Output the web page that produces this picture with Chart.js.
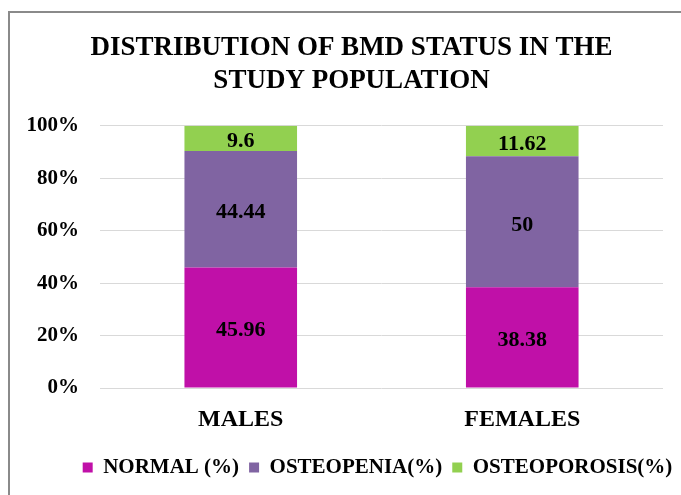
<!DOCTYPE html>
<html>
<head>
<meta charset="utf-8">
<script src="https://cdn.jsdelivr.net/npm/chart.js@4/dist/chart.umd.min.js"></script>
<style>
  body { margin: 0; background: #fff; }
  #frame { position: absolute; left: 8px; top: 11px; width: 800px; height: 600px;
           border-left: 2px solid #8a8a8a; border-top: 2px solid #8a8a8a; }
  #chart { position: absolute; left: 0; top: 0; }
</style>
</head>
<body>
<div id="frame"></div>
<canvas id="chart" width="681" height="495"></canvas>
<script>
var categories = ["MALES", "FEMALES"];
var normalPct = [45.96, 38.38];
var osteopeniaPct = [44.44, 50];
var osteoporosisPct = [9.6, 11.62];
var seriesNames = ["NORMAL (%)", "OSTEOPENIA(%)", "OSTEOPOROSIS(%)"];
var yTicks = [0, 20, 40, 60, 80, 100];

var serif = "'Liberation Serif', 'Times New Roman', serif";

// writes each value in the middle of its bar segment
var barLabels = {
    id: "barLabels",
    afterDatasetsDraw: function (chart) {
        var ctx = chart.ctx;
        ctx.save();
        ctx.font = "bold 22px " + serif;
        ctx.fillStyle = "#000";
        ctx.textAlign = "center";
        ctx.textBaseline = "middle";
        chart.data.datasets.forEach(function (ds, i) {
            chart.getDatasetMeta(i).data.forEach(function (bar, j) {
                var p = bar.getCenterPoint();
                ctx.fillText(String(ds.data[j]), p.x, p.y + 3);
            });
        });
        ctx.restore();
    }
};

// title and legend sit a bit right of the plot centre in the original
var boxShift = {
    id: "boxShift",
    afterLayout: function (chart) {
        chart.titleBlock.left += 15;
        chart.titleBlock.right += 15;
        chart.legend.left += 41;
        chart.legend.right += 41;
    }
};

new Chart(document.getElementById("chart"), {
    type: "bar",
    data: {
        labels: categories,
        datasets: [
            { label: seriesNames[0], data: normalPct, backgroundColor: "#C010A8" },
            { label: seriesNames[1], data: osteopeniaPct, backgroundColor: "#8064A2" },
            { label: seriesNames[2], data: osteoporosisPct, backgroundColor: "#92D050" }
        ]
    },
    options: {
        responsive: false,
        animation: false,
        barPercentage: 0.4,
        categoryPercentage: 1,
        layout: { padding: { left: 10, right: 18, top: 0, bottom: 7 } },
        plugins: {
            title: {
                display: true,
                text: ["DISTRIBUTION OF BMD STATUS IN THE", "STUDY POPULATION"],
                color: "#000",
                font: { family: serif, size: 27, weight: "bold", lineHeight: 1.2 },
                padding: { top: 32, bottom: 29 }
            },
            legend: {
                position: "bottom",
                labels: {
                    boxWidth: 10,
                    boxHeight: 10,
                    padding: 10,
                    color: "#000",
                    font: { family: serif, size: 21, weight: "bold" }
                }
            },
            tooltip: { enabled: false }
        },
        scales: {
            x: {
                stacked: true,
                grid: { display: false },
                border: { display: false },
                ticks: {
                    color: "#000",
                    padding: 9,
                    font: { family: serif, size: 24, weight: "bold" }
                },
                afterFit: function (scale) { scale.height = 59; }
            },
            y: {
                stacked: true,
                min: yTicks[0],
                max: yTicks[yTicks.length - 1],
                grid: { color: "#d9d9d9", drawTicks: false },
                border: { display: false },
                ticks: {
                    stepSize: 20,
                    padding: 21,
                    color: "#000",
                    font: { family: serif, size: 21, weight: "bold" },
                    callback: function (v) { return v + "%"; }
                },
                afterFit: function (scale) { scale.width = 90; }
            }
        }
    },
    plugins: [barLabels, boxShift]
});
</script>
</body>
</html>
